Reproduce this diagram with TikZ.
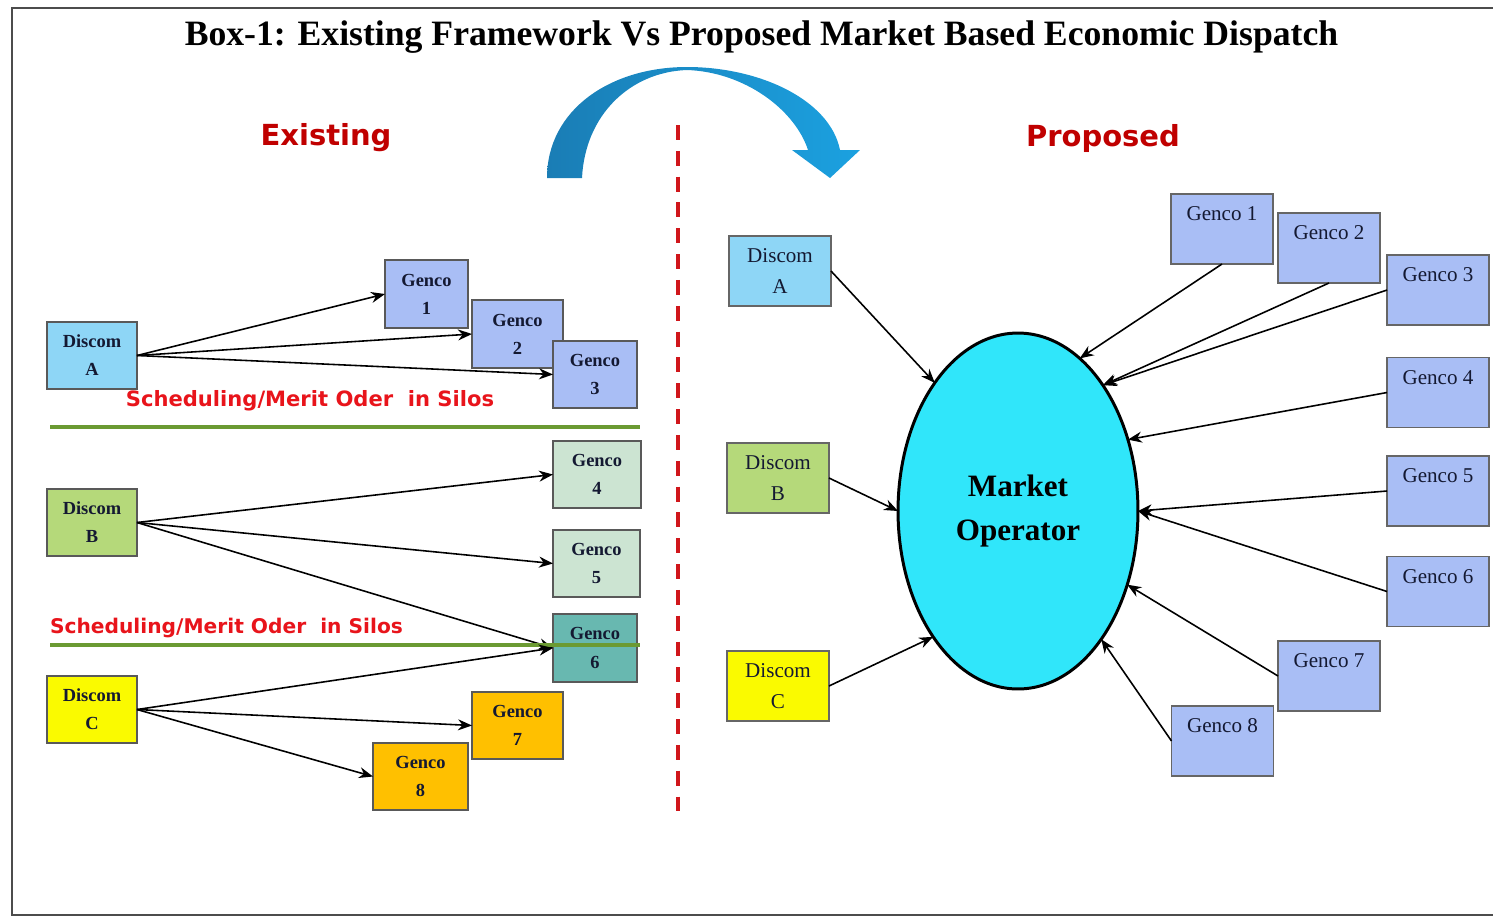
\documentclass[tikz,border=0pt]{standalone}
\usepackage{fontspec}
\setmainfont{Liberation Serif}
\newfontfamily\verdfont{DejaVu Sans}
\usetikzlibrary{arrows.meta, shapes.geometric}

\definecolor{discomblue}{RGB}{142,214,246}
\definecolor{discomgreen}{RGB}{181,217,122}
\definecolor{discomyellow}{RGB}{250,250,0}
\definecolor{gencoblue}{RGB}{169,190,245}
\definecolor{gencomint}{RGB}{204,228,210}
\definecolor{gencoteal}{RGB}{104,184,176}
\definecolor{gencoorange}{RGB}{255,192,0}
\definecolor{mocyan}{RGB}{48,230,250}
\definecolor{siloGreen}{RGB}{107,154,50}
\definecolor{dashred}{RGB}{208,22,27}
\definecolor{headred}{RGB}{192,0,0}
\definecolor{notered}{RGB}{232,20,27}
\definecolor{arcdark}{RGB}{26,125,181}
\definecolor{arclight}{RGB}{27,161,224}
\definecolor{textnavy}{RGB}{20,25,50}

\begin{document}
\begin{tikzpicture}[x=0.02cm, y=-0.02cm,
  every node/.style={inner sep=0pt, outer sep=0pt},
  silobox/.style={draw=black!65, line width=0.85pt, align=center, text=textnavy,
    font=\fontsize{10.5}{16}\selectfont\bfseries},
  mktbox/.style={draw=black!60, line width=0.85pt, align=center, text=textnavy,
    minimum width=2.04cm, minimum height=1.4cm, font=\fontsize{12}{17.6}\selectfont},
  link/.style={-{Stealth[length=2.8mm, width=2.2mm]}, line width=0.9pt},
  silonote/.style={text=notered, font=\verdfont\bfseries\fontsize{12}{14}\selectfont},
  sidehead/.style={text=headred, font=\verdfont\bfseries\fontsize{16.5}{19}\selectfont},
  siloline/.style={draw=siloGreen, line width=2.3pt}]
\useasboundingbox (0,0) rectangle (1493,917);

% Outer frame (open on the right)
\draw[black!70, line width=0.04cm] (1493,8) -- (12,8) -- (12,915) -- (1493,915);

\node[font=\fontsize{20.3}{24}\selectfont\bfseries] (title) at (761.5,37)
  {Box-1: Existing Framework Vs Proposed Market Based Economic Dispatch};

% Curved blue arrow from Existing to Proposed
\shade[left color=arcdark, right color=arclight]
  (547,178) .. controls (547,110) and (610,67) .. (687,67)
  .. controls (760,67) and (830,100) .. (840,150)
  -- (860,150) -- (830,178) -- (792,150) -- (808,150)
  .. controls (795,110) and (745,72) .. (687,70)
  .. controls (630,72) and (585,115) .. (582,178) -- cycle;

% Dividing line
\draw[dashred, line width=2.3pt, dash pattern=on 8.5pt off 6.2pt] (678,125) -- (678,815);

\node[sidehead] (exist) at (326,138) {Existing};
\node[sidehead] (prop) at (1103,138) {Proposed};

% Existing: silo of Discom A
\node[silobox, fill=discomblue, minimum width=1.8cm, minimum height=1.34cm] (dA) at (92,355.5) {Discom\\A};
\node[silobox, fill=gencoblue, minimum width=1.66cm, minimum height=1.36cm] (g1) at (426.5,294) {Genco\\1};
\node[silobox, fill=gencoblue, minimum width=1.82cm, minimum height=1.36cm] (g2) at (517.5,334) {Genco\\2};
\node[silobox, fill=gencoblue, minimum width=1.68cm, minimum height=1.34cm] (g3) at (595,374.5) {Genco\\3};
\draw[link] (dA.east) -- (g1.west);
\draw[link] (dA.east) -- (g2.west);
\draw[link] (dA.east) -- (g3.west);
\node[silonote] (note1) at (310,401) {Scheduling/Merit Oder\ \ in Silos};
\draw[siloline] (50,427) -- (640,427);

% Existing: silo of Discom B
\node[silobox, fill=discomgreen, minimum width=1.8cm, minimum height=1.34cm] (dB) at (92,522.5) {Discom\\B};
\node[silobox, fill=gencomint, minimum width=1.76cm, minimum height=1.34cm] (g4) at (597,474.5) {Genco\\4};
\node[silobox, fill=gencomint, minimum width=1.74cm, minimum height=1.34cm] (g5) at (596.5,563.5) {Genco\\5};
\node[silobox, fill=gencoteal, minimum width=1.68cm, minimum height=1.36cm] (g6) at (595,648) {Genco\\6};
\draw[link] (dB.east) -- (g4.west);
\draw[link] (dB.east) -- (g5.west);
\draw[link] (dB.east) -- (g6.west);
\node[silonote, font=\verdfont\bfseries\fontsize{11.5}{14}\selectfont] (note2) at (226.5,628) {Scheduling/Merit Oder\ \ in Silos};
\draw[siloline] (50,645) -- (640,645);

% Existing: silo of Discom C
\node[silobox, fill=discomyellow, minimum width=1.8cm, minimum height=1.34cm] (dC) at (92,709.5) {Discom\\C};
\node[silobox, fill=gencoorange, minimum width=1.82cm, minimum height=1.34cm] (g7) at (517.5,725.5) {Genco\\7};
\node[silobox, fill=gencoorange, minimum width=1.9cm, minimum height=1.34cm] (g8) at (420.5,776.5) {Genco\\8};
\draw[link] (dC.east) -- (g6.west);
\draw[link] (dC.east) -- (g7.west);
\draw[link] (dC.east) -- (g8.west);

% Proposed: market operator
\node[ellipse, draw, line width=1.7pt, fill=mocyan, minimum width=4.8cm, minimum height=7.12cm,
  align=center, font=\fontsize{17.7}{25.5}\selectfont\bfseries] (mo) at (1018,511) {Market\\Operator};

\node[mktbox, fill=discomblue] (rA) at (780,271) {Discom\\A};
\node[mktbox, fill=discomgreen] (rB) at (778,478) {Discom\\B};
\node[mktbox, fill=discomyellow] (rC) at (778,686) {Discom\\C};

\foreach \i/\x/\y in {1/1222/229, 2/1329/248, 3/1438/290, 4/1438/392.5,
                      5/1438/491, 6/1438/591.5, 7/1329/676, 8/1222.5/741}
  \node[mktbox, fill=gencoblue] (p\i) at (\x,\y) {Genco \i\\~};

\draw[link] (rA.east) -- (mo.123);
\draw[link] (rB.east) -- (mo.180);
\draw[link] (rC.east) -- (mo.236);
\draw[link] (p1.south) -- (mo.68);
\draw[link] (p2.south) -- (mo.56);
\draw[link] (p3.west) -- (mo.56);
\draw[link] (p4.west) -- (mo.33);
\draw[link] (p5.west) -- (mo.0);
\draw[link] (p6.west) -- (mo.0);
\draw[link] (p7.west) -- (mo.-34);
\draw[link] (p8.west) -- (mo.-57);

\end{tikzpicture}
\end{document}
